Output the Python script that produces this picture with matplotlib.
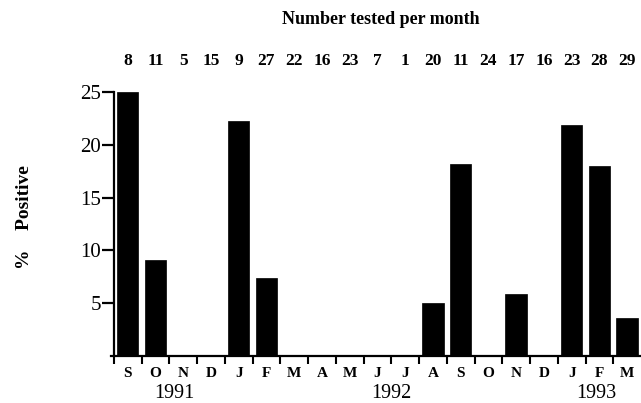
import matplotlib
matplotlib.use("Agg")
import matplotlib.pyplot as plt
import numpy as np

months = ["S", "O", "N", "D", "J", "F", "M", "A", "M", "J", "J", "A", "S", "O", "N", "D", "J", "F", "M"]
pct_positive = [25, 9.1, 0, 0, 22.3, 7.4, 0, 0, 0, 0, 0, 5.05, 18.2, 0, 5.9, 0, 21.9, 18.0, 3.6]
n_tested = [8, 11, 5, 15, 9, 27, 22, 16, 23, 7, 1, 20, 11, 24, 17, 16, 23, 28, 29]
years = ["1991", "1992", "1993"]
year_pos = [1.7, 9.5, 16.9]
yticks = [5, 10, 15, 20, 25]

plt.rcParams["font.family"] = ["Liberation Serif", "DejaVu Serif"]

fig = plt.figure(figsize=(6.41, 4.03), dpi=100)
ax = fig.add_axes([111/641, 1 - 356/403, 1 - 111/641, (356 - 92)/403])

x = np.arange(len(months))
ax.bar(x, pct_positive, width=0.78, color="black", edgecolor="black", linewidth=0.5)

ax.set_xlim(-0.6, 18.5)
ax.set_ylim(0, 25)
ax.spines["top"].set_visible(False)
ax.spines["right"].set_visible(False)
ax.spines["left"].set_bounds(0, 25)
ax.spines["left"].set_position(("data", -0.5))
ax.spines["left"].set_linewidth(1.6)
ax.spines["bottom"].set_linewidth(1.6)

ax.set_yticks(yticks)
ax.set_yticklabels([str(v) for v in yticks], fontsize=15)
ax.tick_params(axis="y", direction="out", length=9, width=1.6, pad=0)

ax.set_xticks(x)
ax.set_xticklabels(months, fontsize=11, fontweight="bold")
ax.tick_params(axis="x", which="major", length=0, pad=8)
ax.set_xticks(np.arange(-0.5, 18.5, 1), minor=True)
ax.tick_params(axis="x", which="minor", direction="out", length=6, width=1.5)

for xi, yr in zip(year_pos, years):
    ax.text(xi, -0.142, yr, transform=ax.get_xaxis_transform(), ha="center", va="center", fontsize=14.5)

for xi, n in zip(x, n_tested):
    ax.text(xi, 1.117, str(n), transform=ax.get_xaxis_transform(), ha="center", va="center",
            fontsize=12.5, fontweight="bold")

fig.text(381/641, 1 - 20/403, "Number tested per month", ha="center", va="center",
         fontsize=13, fontweight="bold")
fig.text(25/641, 1 - 217/403, "%    Positive", ha="center", va="center", rotation=90,
         fontsize=14, fontweight="bold")

fig.savefig("out.png", dpi=100)
